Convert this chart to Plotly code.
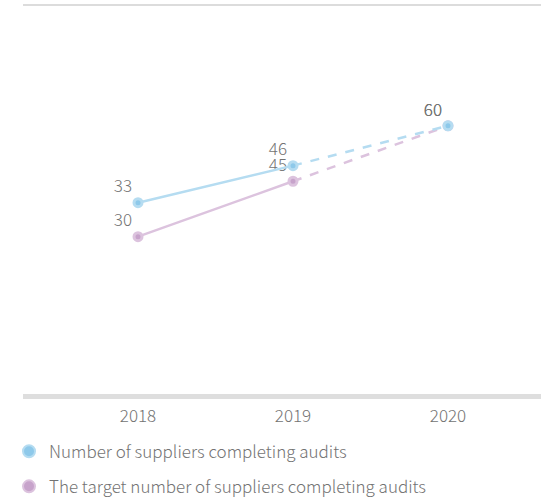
import plotly.graph_objects as go

years = ["2018", "2019", "2020"]
completed = [33, 46, 60]
target = [30, 45, 60]
names = ["Number of suppliers completing audits",
         "The target number of suppliers completing audits"]

BLUE_LINE = "#b5dcf1"
BLUE_MK = "#8ec9ea"
PURP_LINE = "#dcc3de"
PURP_MK = "#c7a3cb"
FONT = "Noto Sans CJK SC"
TXT = "#737373"

fig = go.Figure()

def add_series(vals, line_c, mk_c, yaxis, name, rank, grp):
    fig.add_trace(go.Scatter(x=years[:2], y=vals[:2], mode="lines", yaxis=yaxis, legendgroup=grp,
                             line=dict(color=line_c, width=2.5), showlegend=False, hoverinfo="skip"))
    fig.add_trace(go.Scatter(x=years[1:], y=vals[1:], mode="lines", yaxis=yaxis, legendgroup=grp,
                             line=dict(color=line_c, width=2.5, dash="dash"), showlegend=False, hoverinfo="skip"))
    fig.add_trace(go.Scatter(x=years, y=vals, mode="markers+text", yaxis=yaxis, legendgroup=grp,
                             text=[str(v) for v in vals], textposition="top left",
                             textfont=dict(family=FONT, size=17, color=TXT, weight=300),
                             marker=dict(color=mk_c, size=8, line=dict(color=line_c, width=3)),
                             showlegend=False))
    fig.add_trace(go.Scatter(x=[None], y=[None], mode="markers", name=name, yaxis=yaxis,
                             legendgroup=grp,
                             marker=dict(color=mk_c, size=9, line=dict(color=line_c, width=3)),
                             legendrank=rank))

add_series(target, PURP_LINE, PURP_MK, "y", names[1], 2, "t")
add_series(completed, BLUE_LINE, BLUE_MK, "y2", names[0], 1, "c")

fig.update_layout(
    width=541, height=502,
    margin=dict(l=23, r=0, t=5, b=107.5, autoexpand=False),
    plot_bgcolor="white", paper_bgcolor="white",
    font=dict(family=FONT, size=17, color=TXT, weight=300),
    xaxis=dict(type="category", range=[-0.742, 2.6], showgrid=False, zeroline=False,
               showline=True, linecolor="#dedede", linewidth=5, ticks="",
               ticklabelstandoff=3,
               tickfont=dict(family=FONT, size=17, color=TXT, weight=300)),
    yaxis=dict(range=[-12.57, 92.7], showgrid=False, zeroline=False, showticklabels=False),
    yaxis2=dict(range=[-34.18, 102.4], overlaying="y", showgrid=False, zeroline=False,
                showticklabels=False),
    legend=dict(x=-0.027, y=-0.102, xanchor="left", yanchor="top",
                font=dict(family=FONT, size=17, color=TXT, weight=300),
                tracegroupgap=10, itemsizing="constant", itemwidth=30),
    shapes=[dict(type="line", xref="paper", yref="paper", x0=0, x1=1, y0=1, y1=1,
                 line=dict(color="#dcdcdc", width=2))],
)

fig.write_html("out.html", config={"displayModeBar": False},
               post_script="document.body.style.margin='0';")
